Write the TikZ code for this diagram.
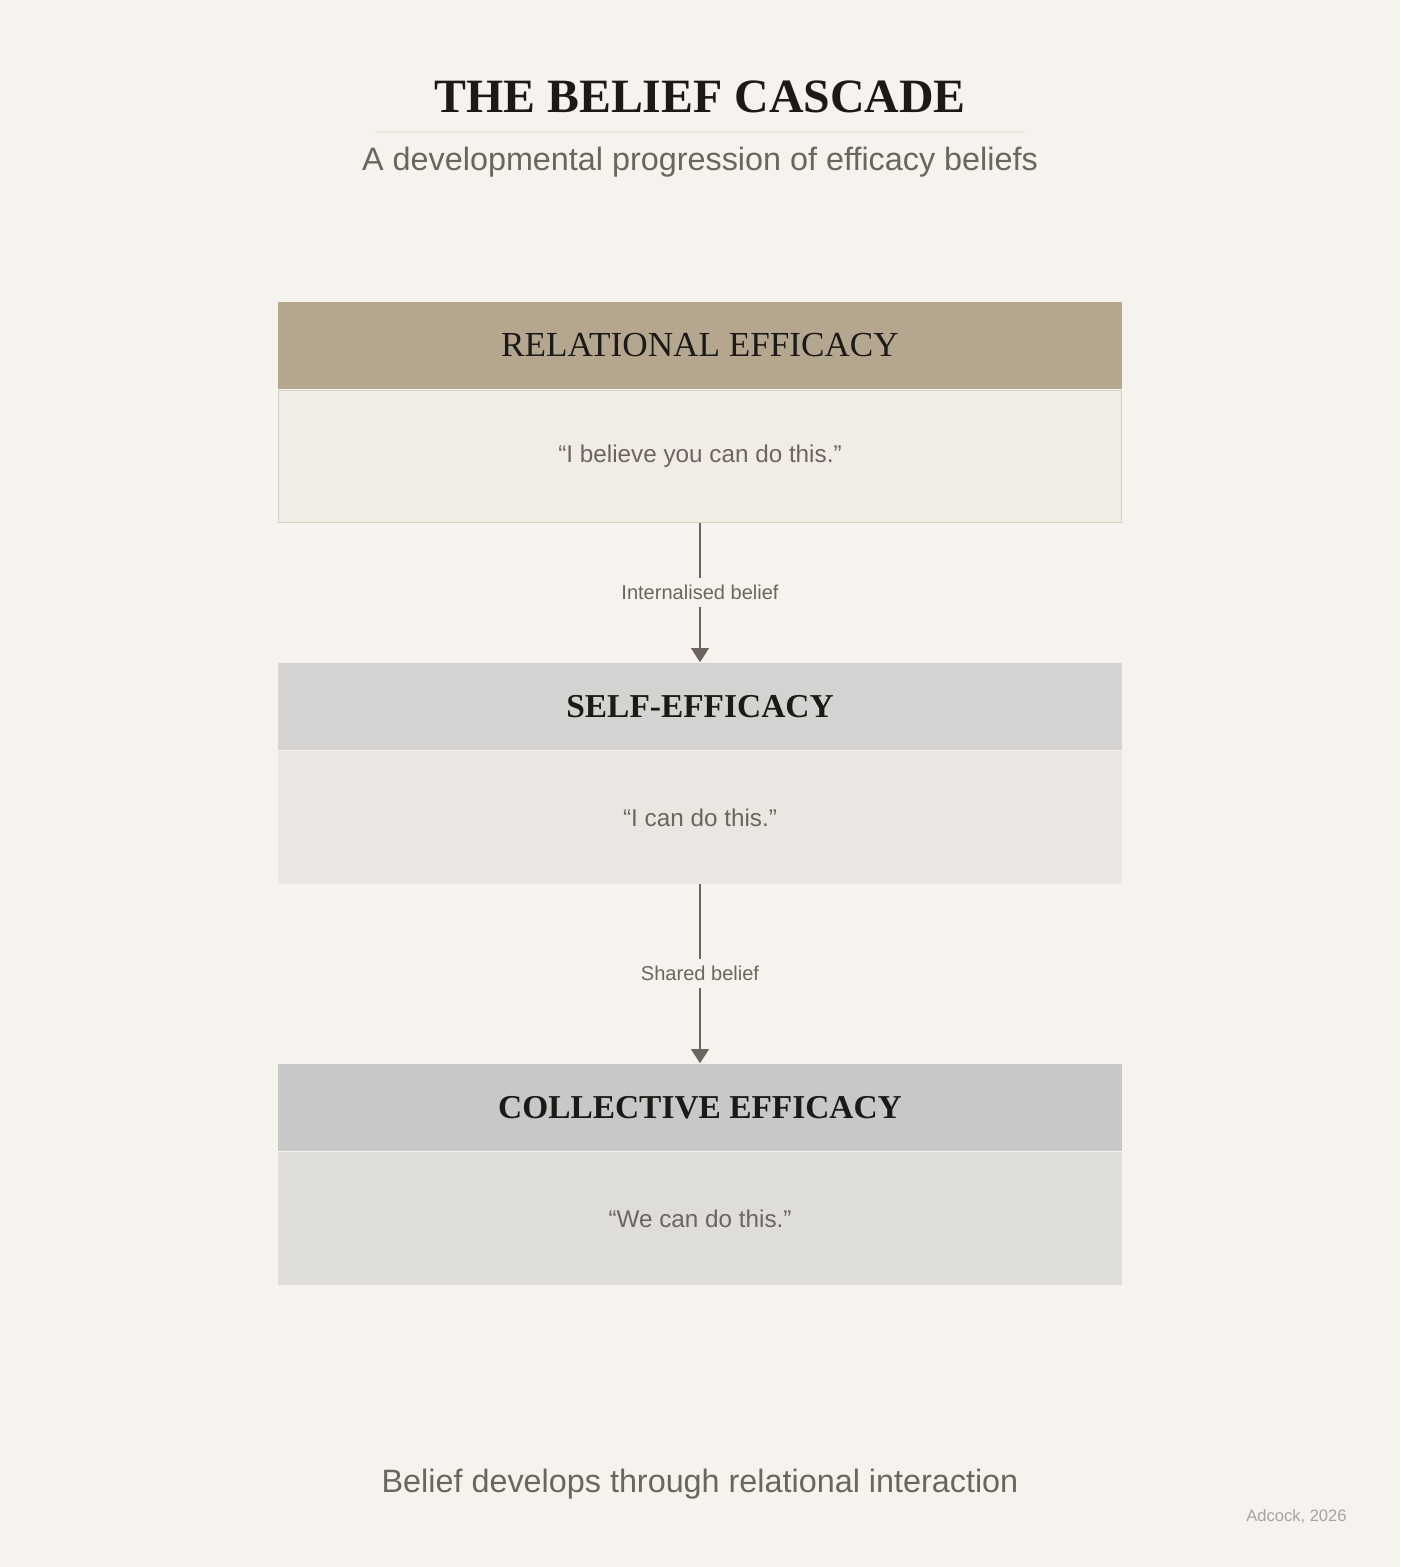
\documentclass[tikz,border=0pt]{standalone}
\usepackage{fontspec}
\setmainfont{Liberation Serif}
\setsansfont{Liberation Sans}
\usetikzlibrary{arrows.meta, positioning}
\definecolor{bgcol}{HTML}{F6F3EE}
\definecolor{inkcol}{HTML}{1C1A17}
\definecolor{greycol}{HTML}{6B655E}
\definecolor{headA}{HTML}{B5A690}
\definecolor{bodyA}{HTML}{F1ECE4}
\definecolor{lineA}{HTML}{D8CFC0}
\definecolor{headB}{HTML}{D4D3D1}
\definecolor{bodyB}{HTML}{EAE7E3}
\definecolor{headC}{HTML}{C9C8C8}
\definecolor{bodyC}{HTML}{DEDDDA}
\begin{document}
\begin{tikzpicture}[
        x=0.01cm, y=-0.01cm,
        node distance=0pt,
        % Cabecera de cada nivel
        headbox/.style={
                rectangle,
                minimum width=8.43cm,
                minimum height=0.87cm,
                inner sep=0pt,
                font=\bfseries\fontsize{9.5}{11}\selectfont,
                text=inkcol
            },
        % Cuerpo con la frase
        bodybox/.style={
                rectangle,
                minimum width=8.43cm,
                minimum height=1.32cm,
                inner sep=0pt,
                font=\sffamily\fontsize{6.9}{8}\selectfont,
                text=greycol
            },
        % Flechas
        arrow/.style={
                -{Triangle[length=4pt,width=5pt]},
                line width=0.5pt,
                color=greycol
            },
        steplabel/.style={
                fill=bgcol,
                inner sep=2pt,
                font=\sffamily\fontsize{5.7}{7}\selectfont,
                text=greycol
            }
    ]
    \fill[bgcol] (0,0) rectangle (1400,1567);

    % Título principal
    \node[font=\bfseries\fontsize{13.6}{16}\selectfont, text=inkcol] (title) at (700,97) {THE BELIEF CASCADE};
    \draw[lineA!50, line width=0.3pt] (375,132) -- (1025,132);
    \node[font=\sffamily\fontsize{9.2}{11}\selectfont, text=greycol] (subtitle) at (700,162) {A developmental progression of efficacy beliefs};

    % Niveles
    \node[headbox, fill=headA, font=\fontsize{10}{12}\selectfont] (relhead) at (700,345.5) {RELATIONAL EFFICACY};
    \node[bodybox, fill=bodyA, draw=lineA, below=of relhead] (relbody) {“I believe you can do this.”};

    \node[headbox, fill=headB] (selfhead) at (700,706.5) {SELF-EFFICACY};
    \node[bodybox, fill=bodyB, below=of selfhead] (selfbody) {“I can do this.”};

    \node[headbox, fill=headC] (colhead) at (700,1107.5) {COLLECTIVE EFFICACY};
    \node[bodybox, fill=bodyC, below=of colhead] (colbody) {“We can do this.”};

    % Flechas entre niveles
    \draw[arrow] (relbody.south) -- node[steplabel] (lab1) {Internalised belief} (selfhead.north);
    \draw[arrow] (selfbody.south) -- node[steplabel] (lab2) {Shared belief} (colhead.north);

    % Pie
    \node[font=\sffamily\fontsize{9.2}{11}\selectfont, text=greycol] (footer) at (700,1484) {Belief develops through relational interaction};
    \node[anchor=east, font=\sffamily\fontsize{4.7}{5}\selectfont, text=greycol!60] (credit) at (1359,1517) {Adcock, 2026};
\end{tikzpicture}
\end{document}
